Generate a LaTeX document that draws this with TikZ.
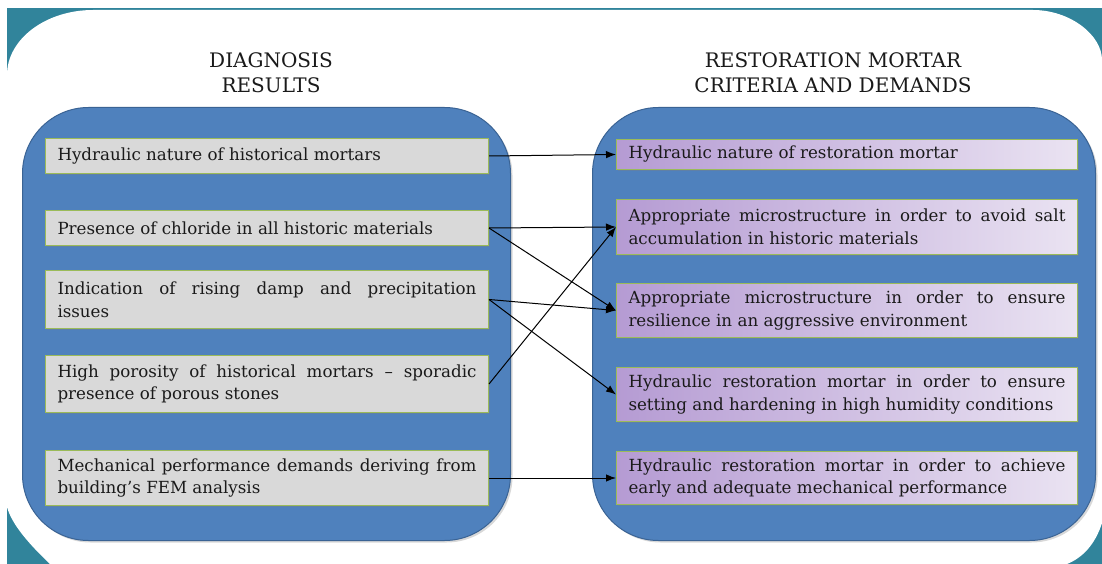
\documentclass[tikz,border=0pt]{standalone}
\usepackage{fontspec}
\setmainfont{DejaVu Serif}
\usetikzlibrary{arrows.meta,shadows}
\definecolor{teal1}{HTML}{31849B}
\definecolor{panelfill}{HTML}{4F81BD}
\definecolor{paneldraw}{HTML}{3A6394}
\definecolor{boxgray}{HTML}{D9D9D9}
\definecolor{boxedge}{HTML}{9BBB59}
\definecolor{purpA}{HTML}{B59BD3}
\definecolor{purpB}{HTML}{EAE3F2}
\definecolor{txt}{HTML}{1A1A1A}
\tikzset{
  panel/.style={anchor=north west, rounded corners=66pt, fill=panelfill, draw=paneldraw, line width=1pt,
    inner sep=0pt, drop shadow={shadow xshift=2pt, shadow yshift=-2pt, opacity=0.3}},
  lbox/.style={anchor=north west, draw=boxedge, line width=1pt, fill=boxgray, text width=419pt,
    inner xsep=12pt, inner ysep=0pt, align=justify, text=txt, font=\fontsize{16.7}{22.7}\selectfont,
    drop shadow={shadow xshift=1.5pt, shadow yshift=-1.5pt, opacity=0.35}},
  rbox/.style={lbox, text width=437pt, left color=purpA, right color=purpB},
  title/.style={anchor=center, align=center, inner sep=0pt, text=txt, font=\fontsize{20}{25.3}\selectfont},
  arr/.style={-{Latex[length=10pt,width=7.5pt]}, line width=1pt, black},
}
\begin{document}
\begin{tikzpicture}[x=1pt,y=-1pt]
\useasboundingbox (0,0) rectangle (1102,564);
\fill[white] (0,0) rectangle (1102,564);
\fill[teal1] (7,8) rectangle (1102,564);
\fill[white] (7,75) .. controls (7,39) and (46,10) .. (93,10) -- (1033,10)
  .. controls (1070,10) and (1102,35) .. (1102,60) -- (1102,523)
  .. controls (1095,545) and (1082,558) .. (1067,564) -- (50,564)
  .. controls (30,545) and (12,525) .. (7,507) -- cycle;

\node[title] (T1) at (271,72.4) {DIAGNOSIS\\RESULTS};
\node[title] (T2) at (833,72.4) {RESTORATION MORTAR\\CRITERIA AND DEMANDS};

\node[panel, minimum width=488pt, minimum height=433pt] (P1) at (22,107) {};
\node[panel, minimum width=503pt, minimum height=433pt] (P2) at (592,107) {};

\node[lbox, minimum height=35pt] (L1) at (45,138) {Hydraulic nature of historical mortars};
\node[lbox, minimum height=35pt] (L2) at (45,210) {Presence of chloride in all historic materials};
\node[lbox, minimum height=58pt] (L3) at (45,270) {Indication of rising damp and precipitation\linebreak issues};
\node[lbox, minimum height=57pt] (L4) at (45,355) {High porosity of historical mortars – sporadic\linebreak presence of porous stones};
\node[lbox, minimum height=55pt] (L5) at (45,450) {Mechanical performance demands deriving from\linebreak building’s FEM analysis};

\node[rbox, minimum height=30pt] (R1) at (616,139) {Hydraulic nature of restoration mortar};
\node[rbox, minimum height=55pt] (R2) at (616,199) {Appropriate microstructure in order to avoid salt\linebreak accumulation in historic materials};
\node[rbox, minimum height=54pt] (R3) at (616,283) {Appropriate microstructure in order to ensure\linebreak resilience in an aggressive environment};
\node[rbox, minimum height=54pt] (R4) at (616,367) {Hydraulic restoration mortar in order to ensure\linebreak setting and hardening in high humidity conditions};
\node[rbox, minimum height=53pt] (R5) at (616,451) {Hydraulic restoration mortar in order to achieve\linebreak early and adequate mechanical performance};

\draw[arr] (L1.east) -- (R1.west);
\draw[arr] (L2.east) -- (R2.west);
\draw[arr] (L2.east) -- (R3.west);
\draw[arr] (L3.east) -- (R3.west);
\draw[arr] (L3.east) -- (R4.west);
\draw[arr] (L4.east) -- (R2.west);
\draw[arr] (L5.east) -- (R5.west);
\end{tikzpicture}
\end{document}
